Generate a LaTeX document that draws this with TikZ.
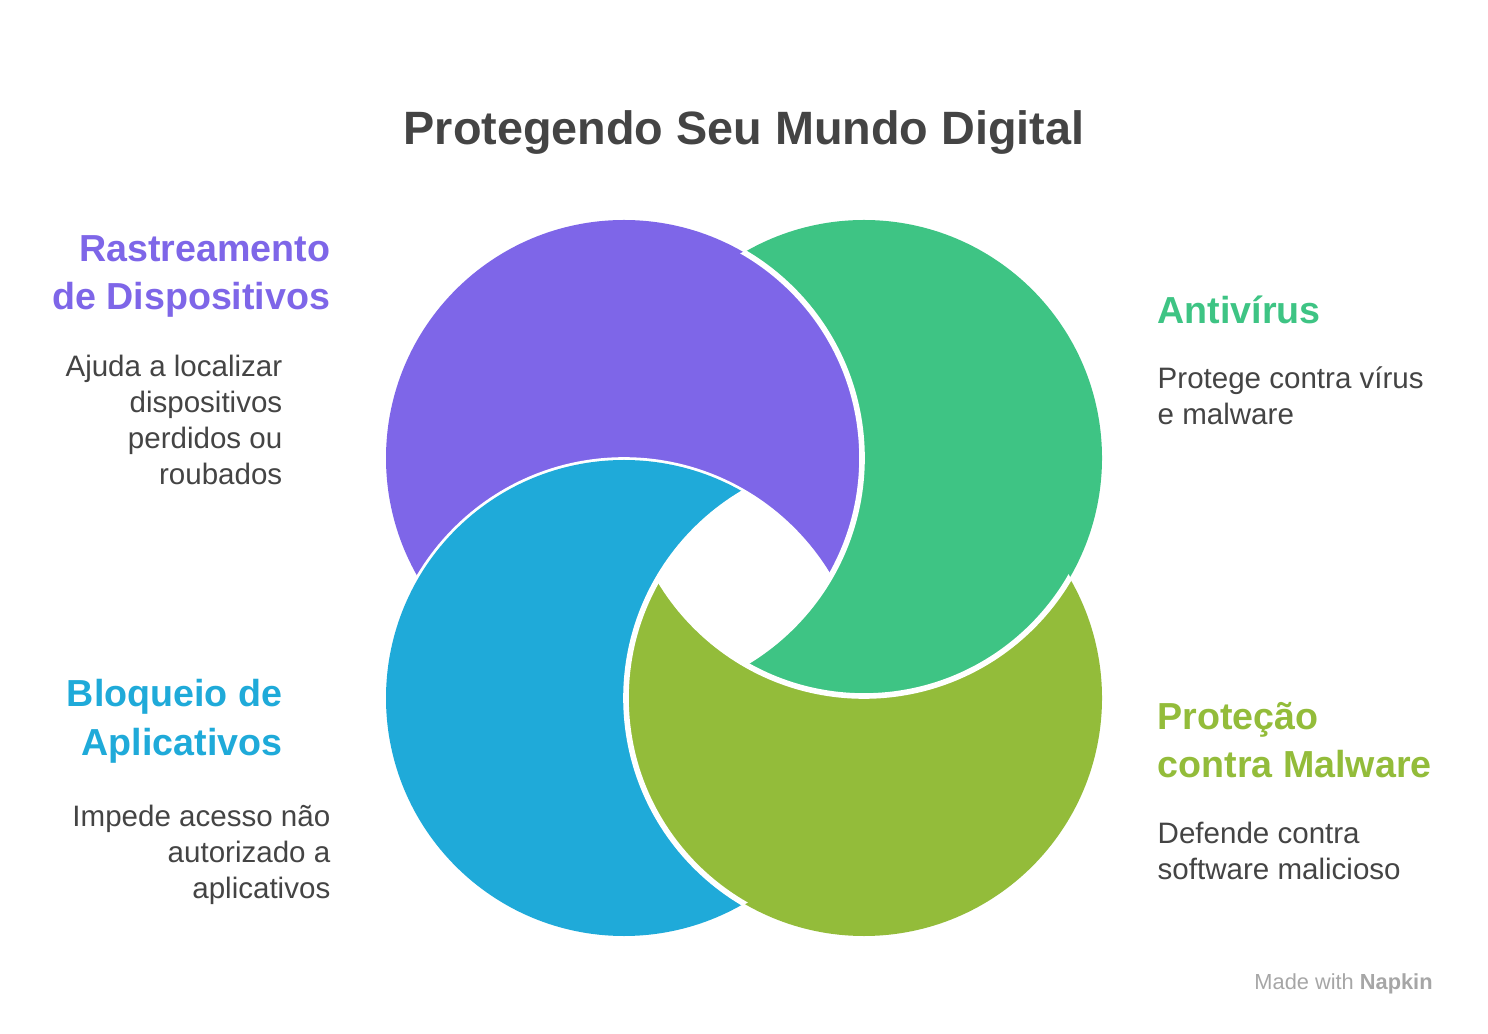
\documentclass[tikz,border=0pt]{standalone}
\usepackage{fontspec}
\setmainfont{Liberation Sans}
\usetikzlibrary{positioning}
\definecolor{cPurple}{HTML}{7E66E8}
\definecolor{cGreen}{HTML}{3EC484}
\definecolor{cBlue}{HTML}{1FAAD9}
\definecolor{cLime}{HTML}{93BC3A}
\definecolor{cText}{HTML}{444444}
\tikzset{
  head/.style={font=\bfseries\fontsize{10.7}{13.7}\selectfont, inner sep=0pt},
  body/.style={font=\fontsize{8.4}{10.25}\selectfont, text=cText, inner sep=0pt},
}
\begin{document}
\begin{tikzpicture}[x=0.01cm, y=-0.01cm]
\useasboundingbox (0,0) rectangle (1488,1034);

% circle centres
\coordinate (P) at (624,458);
\coordinate (G) at (864,458);
\coordinate (B) at (624,698);
\coordinate (L) at (864,698);

\foreach \a/\b/\col in {P/B/cPurple, G/P/cGreen, L/G/cLime, B/L/cBlue}{
  \begin{scope}[even odd rule]
    \clip (-10,-10) rectangle (1500,1050) (\b) circle (238);
    \fill[\col] (\a) circle (238);
  \end{scope}
  \begin{scope}
    \clip (\a) circle (239);
    \draw[white, line width=1.6pt] (\b) circle (238);
  \end{scope}
}

\node[font=\bfseries\fontsize{13.3}{16}\selectfont, text=cText] (title) at (744,133) {Protegendo Seu Mundo Digital};

\node[head, text=cPurple, align=right, anchor=north east] (trackH) at (331,235) {Rastreamento\\de Dispositivos};
\node[body, align=right, anchor=north east] (trackB) at (283,354) {Ajuda a localizar\\dispositivos\\perdidos ou\\roubados};

\node[head, text=cGreen, align=left, anchor=north west] (avH) at (1157,295) {Antivírus};
\node[body, align=left, anchor=north west] (avB) at (1157,366) {Protege contra vírus\\e malware};

\node[head, text=cBlue, align=right, anchor=north east] (lockH) at (283,679) {Bloqueio de\\Aplicativos};
\node[body, align=right, anchor=north east] (lockB) at (331,804) {Impede acesso não\\autorizado a\\aplicativos};

\node[head, text=cLime, align=left, anchor=north west] (malH) at (1157,702) {Proteção\\contra Malware};
\node[body, align=left, anchor=north west] (malB) at (1157,821) {Defende contra\\software malicioso};

\node[font=\fontsize{6.2}{7}\selectfont, text=black!35, anchor=east] (napkin) at (1445,984) {Made with \textbf{Napkin}};
\end{tikzpicture}
\end{document}
